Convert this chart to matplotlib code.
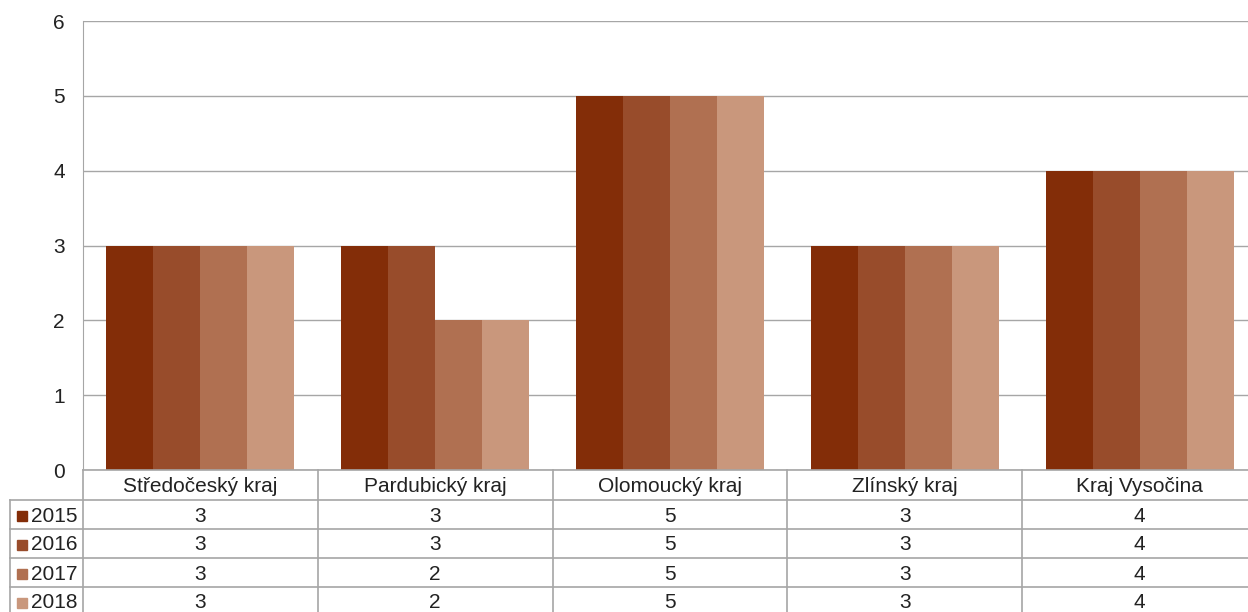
import matplotlib
matplotlib.use("Agg")
import matplotlib.pyplot as plt
from matplotlib.transforms import blended_transform_factory
from matplotlib.patches import Rectangle

categories = ["Středočeský kraj", "Pardubický kraj", "Olomoucký kraj", "Zlínský kraj", "Kraj Vysočina"]
years = ["2015", "2016", "2017", "2018"]
v2015 = [3, 3, 5, 3, 4]
v2016 = [3, 3, 5, 3, 4]
v2017 = [3, 2, 5, 3, 4]
v2018 = [3, 2, 5, 3, 4]
series = [v2015, v2016, v2017, v2018]
colors = ["#832d08", "#984c2b", "#b07051", "#c9977c"]

plt.rcParams['font.family'] = ['Liberation Sans', 'DejaVu Sans']
W, H = 1248, 612
fig = plt.figure(figsize=(W / 100, H / 100), dpi=100)
gray = "#a6a6a6"
tcol = "#222222"
fs = 15

x_left, x_right = 83, 1257
y_top, y_zero = 21, 470
ax = fig.add_axes([x_left / W, 1 - y_zero / H, (x_right - x_left) / W, (y_zero - y_top) / H])
ax.set_xlim(-0.5, len(categories) - 0.5)
ax.set_ylim(0, 6)
ax.set_yticks(range(7))
ax.tick_params(axis='y', length=0, pad=13, labelsize=fs, colors=tcol)
ax.set_xticks([])
ax.grid(axis='y', color=gray, linewidth=1)
ax.set_axisbelow(True)
for s in ["top", "right", "bottom"]:
    ax.spines[s].set_visible(False)
ax.spines["left"].set_color(gray)

bw = 0.2
for i, (vals, c) in enumerate(zip(series, colors)):
    xs = [k + (i - 1.5) * bw for k in range(len(categories))]
    ax.bar(xs, vals, width=bw, color=c, edgecolor="none", zorder=3)

# Data table below
def fy(py):
    return 1 - py / H

def fx(px):
    return px / W

tr = blended_transform_factory(ax.transData, fig.transFigure)
row_edges = [470, 500, 529, 558, 587, 616]
lw = 1.2
fig.add_artist(plt.Line2D([fx(x_left), fx(x_right)], [fy(470), fy(470)], color=gray, lw=lw))
for py in row_edges[1:-1]:
    fig.add_artist(plt.Line2D([fx(10), fx(x_right)], [fy(py), fy(py)], color=gray, lw=lw))
for k in range(len(categories) + 1):
    fig.add_artist(plt.Line2D([k - 0.5, k - 0.5], [fy(470), fy(616)], color=gray, lw=lw, transform=tr))
fig.add_artist(plt.Line2D([fx(10), fx(10)], [fy(500), fy(616)], color=gray, lw=lw))

for k, cat in enumerate(categories):
    fig.text(k, fy((row_edges[0] + row_edges[1]) / 2 + 1.5), cat, transform=tr, ha='center', va='center',
             fontsize=fs, color=tcol)
for i, (yr, vals, c) in enumerate(zip(years, series, colors)):
    ymid = (row_edges[i + 1] + row_edges[i + 2]) / 2
    yc = fy(ymid + 1.5)
    fig.add_artist(Rectangle((fx(17), fy(ymid + 1) - 5 / H), 10 / W, 10 / H, color=c, transform=fig.transFigure))
    fig.text(fx(31), yc, yr, ha='left', va='center', fontsize=fs, color=tcol)
    for k, v in enumerate(vals):
        fig.text(k, yc, str(v), transform=tr, ha='center', va='center', fontsize=fs, color=tcol)

fig.savefig("out.png", dpi=100)
